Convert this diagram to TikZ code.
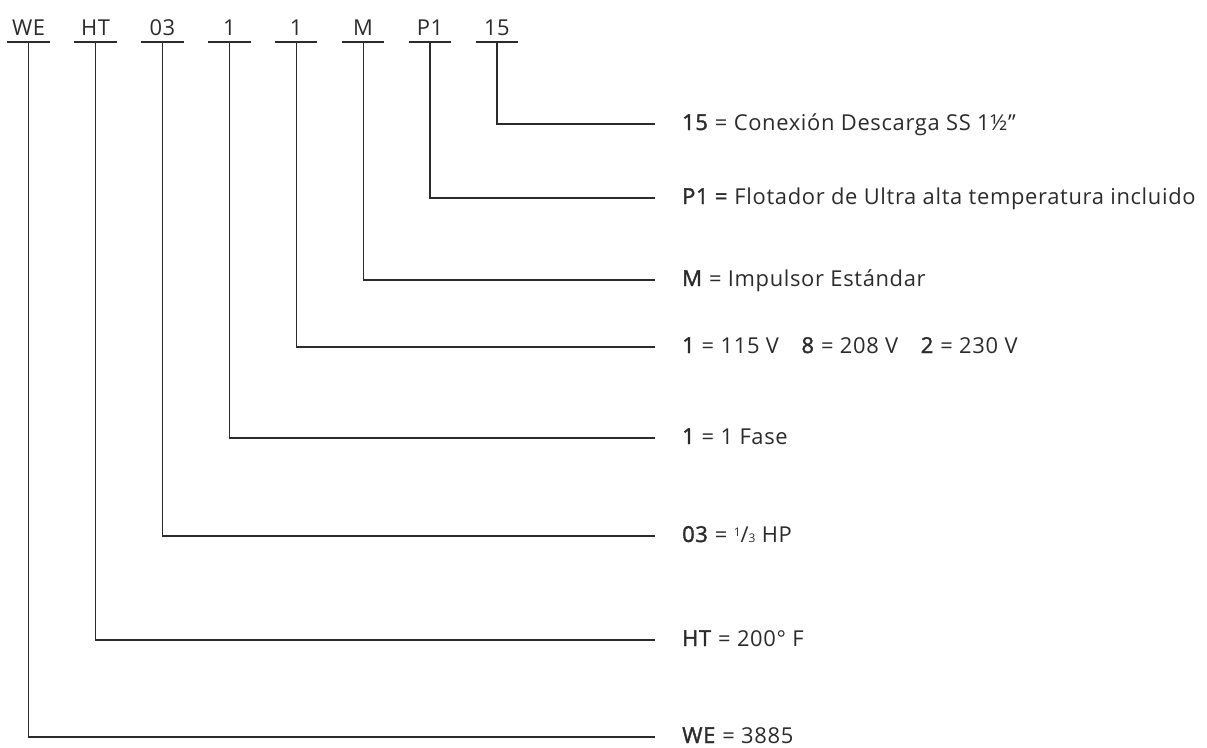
\documentclass[tikz,border=0pt]{standalone}
\usepackage{fontspec}
\setmainfont{Open Sans}[LetterSpace=3, BoldFont={Open Sans}, BoldFeatures={FakeBold=1.6}]
\usepackage{tikz}
\usetikzlibrary{positioning}
\definecolor{ink}{HTML}{2B2B2B}
\newcommand{\onethird}{{\fontsize{12}{12}\selectfont\raisebox{.5em}{1}}/{\fontsize{12}{12}\selectfont 3}}

\begin{document}
\begin{tikzpicture}[x=1bp, y=-1bp, font=\fontsize{22}{26}\selectfont, text=ink,
		k/.style={anchor=south, minimum width=42bp, inner xsep=0, inner ysep=6bp},
		d/.style={anchor=west, inner xsep=27bp, inner ysep=0, text height=12bp, text depth=0bp},
		ln/.style={draw=ink, line width=1.2bp}]
		\useasboundingbox (0,0) rectangle (1207,748);

		\node[k] (we) at (28.6,42) {WE};
		\node[k] (ht) at (95.5,42) {HT};
		\node[k] (hp) at (162.4,42) {03};
		\node[k] (ph) at (229.3,42) {1};
		\node[k] (vo) at (296.2,42) {1};
		\node[k] (im) at (363.1,42) {M};
		\node[k] (fl) at (430,42) {P1};
		\node[k] (co) at (496.9,42) {15};

		\node[d] (dco) at (655,124) {\textbf{15} = Conexión Descarga SS 1½\symbol{34}};
		\node[d] (dfl) at (655,198) {\textbf{P1 =} Flotador de Ultra alta temperatura incluido};
		\node[d] (dim) at (655,280) {\textbf{M} = Impulsor Estándar};
		\node[d] (dvo) at (655,347) {\textbf{1} = 115 V\quad\textbf{8} = 208 V\quad\textbf{2} = 230 V};
		\node[d] (dph) at (655,438) {\textbf{1} = 1 Fase};
		\node[d] (dhp) at (655,536) {\textbf{03} = \onethird{} HP};
		\node[d] (dht) at (655,640) {\textbf{HT} = 200° F};
		\node[d] (dwe) at (655,737) {\textbf{WE} = 3885};

		\draw[ln] (we.south west) -- (we.south east);
		\draw[ln] (ht.south west) -- (ht.south east);
		\draw[ln] (hp.south west) -- (hp.south east);
		\draw[ln] (ph.south west) -- (ph.south east);
		\draw[ln] (vo.south west) -- (vo.south east);
		\draw[ln] (im.south west) -- (im.south east);
		\draw[ln] (fl.south west) -- (fl.south east);
		\draw[ln] (co.south west) -- (co.south east);

		\draw[ln] (co.south) |- (dco.west);
		\draw[ln] (fl.south) |- (dfl.west);
		\draw[ln] (im.south) |- (dim.west);
		\draw[ln] (vo.south) |- (dvo.west);
		\draw[ln] (ph.south) |- (dph.west);
		\draw[ln] (hp.south) |- (dhp.west);
		\draw[ln] (ht.south) |- (dht.west);
		\draw[ln] (we.south) |- (dwe.west);
	\end{tikzpicture}
\end{document}
